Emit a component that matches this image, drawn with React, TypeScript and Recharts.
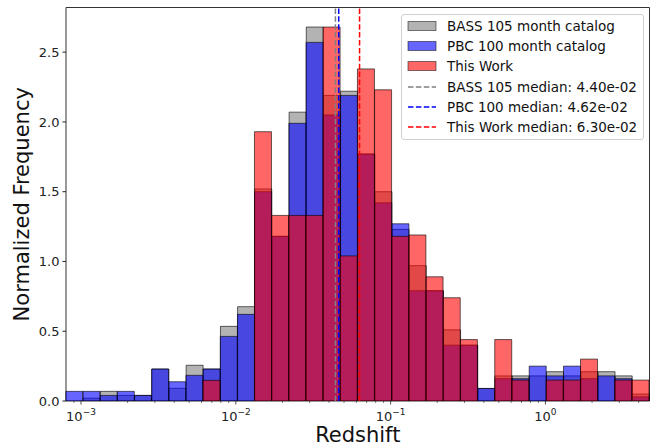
import { ComposedChart, Bar, XAxis, YAxis, ReferenceLine, ReferenceArea, Legend } from "recharts";

// redshift range of the histogram (log-spaced bins)
const zLo = 8.0e-4;
const zHi = 4.7;
const nBins = 34;

// normalized frequency per bin, left to right
const bass = [
  0, 0.02, 0.069, 0.04, 0.04, 0.229, 0.091, 0.256, 0.229, 0.535, 0.676, 1.52, 1.18, 2.07, 2.68, 2.19, 2.22,
  1.77, 1.5, 1.23, 0.97, 0.79, 0.51, 0.4, 0.09, 0.18, 0.18, 0.18, 0.21, 0.18, 0.21, 0.21, 0.18, 0.05,
];
const pbc = [
  0.069, 0.069, 0.04, 0.069, 0.04, 0.229, 0.138, 0.184, 0.229, 0.463, 0.621, 1.5, 1.18, 1.99, 2.57, 2.05, 2.19,
  1.77, 1.42, 1.27, 0.79, 0.79, 0.4, 0.4, 0.09, 0.16, 0.16, 0.25, 0.18, 0.25, 0.16, 0.18, 0.16, 0.03,
];
const thisWork = [
  0, 0, 0, 0, 0, 0, 0, 0, 0.148, 0, 0, 1.93, 1.33, 1.33, 1.33, 2.68, 1.04,
  2.38, 2.23, 1.18, 1.19, 0.89, 0.74, 0.44, 0, 0.44, 0.15, 0, 0.15, 0.15, 0.3, 0, 0.15, 0.15,
];

const medianBass = 0.044;
const medianPbc = 0.0462;
const medianWork = 0.063;

const yTicks = [0, 0.5, 1.0, 1.5, 2.0, 2.5];
const xMajor = [1e-3, 1e-2, 1e-1, 1];
const xMinor = [
  9e-4, 2e-3, 3e-3, 4e-3, 5e-3, 6e-3, 7e-3, 8e-3, 9e-3, 2e-2, 3e-2, 4e-2, 5e-2, 6e-2, 7e-2, 8e-2, 9e-2,
  0.2, 0.3, 0.4, 0.5, 0.6, 0.7, 0.8, 0.9, 2, 3, 4,
];
const yMax = 2.82;

const step = Math.log10(zHi / zLo) / nBins;
const data = bass.map((v, i) => ({
  bin: i,
  z: zLo * Math.pow(10, step * (i + 0.5)),
  bass: v,
  pbc: pbc[i],
  work: thisWork[i],
}));

const legendItems = [
  { label: "BASS 105 month catalog", color: "gray", dashed: false },
  { label: "PBC 100 month catalog", color: "blue", dashed: false },
  { label: "This Work", color: "red", dashed: false },
  { label: `BASS 105 median: 4.40e-02`, color: "gray", dashed: true },
  { label: `PBC 100 median: 4.62e-02`, color: "blue", dashed: true },
  { label: `This Work median: 6.30e-02`, color: "red", dashed: true },
];

function LogTick({ x, y, payload }: any) {
  const e = Math.log10(payload.value);
  const major = Math.abs(e - Math.round(e)) < 1e-6;
  const exp = Math.round(e);
  return (
    <g>
      <line x1={x} x2={x} y1={y} y2={y + (major ? 3.5 : 2)} stroke="#222" strokeWidth={major ? 0.8 : 0.6} />
      {major && (
        <text x={x} y={y + 20} textAnchor="middle" fontSize={13} fill="#222">
          10
          <tspan dy={-6} fontSize={9}>
            {exp < 0 ? `\u2212${-exp}` : `${exp}`}
          </tspan>
        </text>
      )}
    </g>
  );
}

function LegendBox() {
  return (
    <div
      style={{
        border: "1px solid #d0d0d0",
        borderRadius: 3,
        background: "rgba(255,255,255,0.8)",
        padding: "1px 0 2px 0",
        fontFamily: "DejaVu Sans",
        fontSize: 13.5,
        color: "#111",
      }}
    >
      {legendItems.map((it) => (
        <div key={it.label} style={{ display: "flex", alignItems: "center", height: 20.2 }}>
          <svg width={40} height={12} style={{ marginLeft: 5 }}>
            {it.dashed ? (
              <line x1={1} x2={29} y1={6} y2={6} stroke={it.color} strokeWidth={1.5} strokeDasharray="5.5 2.4" />
            ) : (
              <rect x={1} y={1.5} width={28} height={9} fill={it.color} fillOpacity={0.6} stroke="#000" strokeOpacity={0.5} />
            )}
          </svg>
          <span style={{ whiteSpace: "nowrap" }}>{it.label}</span>
        </div>
      ))}
    </div>
  );
}

export default function App() {
  return (
    <div style={{ position: "absolute", left: 0, top: 0, background: "#fff" }}>
      <ComposedChart
        width={666}
        height={447}
        data={data}
        margin={{ top: 7.5, right: 16.5, left: 8, bottom: 0 }}
        barCategoryGap={0}
        barGap="-100%"
        style={{ fontFamily: "DejaVu Sans" }}
      >
        <XAxis xAxisId="cat" dataKey="bin" orientation="top" hide />
        <XAxis
          xAxisId="log"
          dataKey="z"
          type="number"
          scale="log"
          domain={[zLo, zHi]}
          allowDataOverflow
          ticks={[...xMajor, ...xMinor]}
          interval={0}
          tick={<LogTick />}
          tickLine={false}
          tickSize={0}
          tickMargin={0}
          axisLine={false}
          height={46}
          label={{ value: "Redshift", position: "insideBottom", offset: 5.5, fontSize: 21, fill: "#111" }}
        />
        <YAxis
          domain={[0, yMax]}
          ticks={yTicks}
          allowDataOverflow
          width={58}
          tickFormatter={(v) => Number(v).toFixed(1)}
          tick={{ fontSize: 13, fill: "#222" }}
          tickSize={3.5}
          tickMargin={3}
          tickLine={{ stroke: "#222" }}
          axisLine={false}
          label={{
            value: "Normalized Frequency",
            content: ({ viewBox }: any) => {
              const cx = viewBox.x + 20.5;
              const cy = viewBox.y + viewBox.height / 2;
              return (
                <text x={cx} y={cy} transform={`rotate(-90 ${cx} ${cy})`} textAnchor="middle" fontSize={21} fill="#111">
                  Normalized Frequency
                </text>
              );
            },
          }}
        />
        <Bar xAxisId="cat" dataKey="bass" fill="gray" fillOpacity={0.6} stroke="#000" strokeOpacity={0.6} isAnimationActive={false} />
        <Bar xAxisId="cat" dataKey="pbc" fill="blue" fillOpacity={0.6} stroke="#000" strokeOpacity={0.6} isAnimationActive={false} />
        <Bar xAxisId="cat" dataKey="work" fill="red" fillOpacity={0.6} stroke="#000" strokeOpacity={0.6} isAnimationActive={false} />
        <ReferenceLine xAxisId="log" x={medianBass} stroke="gray" strokeWidth={1.5} strokeDasharray="5.5 2.4" />
        <ReferenceLine xAxisId="log" x={medianPbc} stroke="blue" strokeWidth={1.5} strokeDasharray="5.5 2.4" />
        <ReferenceLine xAxisId="log" x={medianWork} stroke="red" strokeWidth={1.5} strokeDasharray="5.5 2.4" />
        <ReferenceArea
          xAxisId="log"
          x1={zLo}
          x2={zHi}
          y1={0}
          y2={yMax}
          fill="none"
          stroke="#333"
          strokeWidth={1}
          ifOverflow="visible"
        />
        <Legend
          layout="horizontal"
          verticalAlign="middle"
          align="center"
          wrapperStyle={{ left: 401, top: 14, width: 243, height: 124 }}
          content={() => <LegendBox />}
        />
      </ComposedChart>
    </div>
  );
}
